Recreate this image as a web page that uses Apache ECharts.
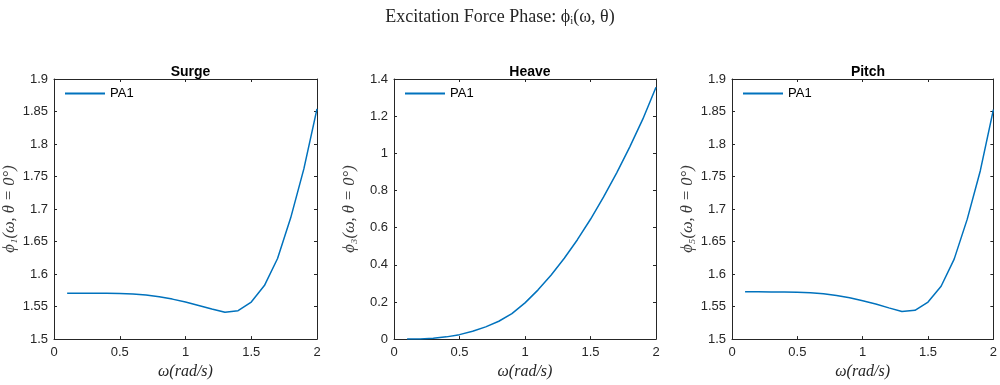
<!DOCTYPE html>
<html>
<head>
<meta charset="utf-8">
<script src="https://cdn.jsdelivr.net/npm/echarts@6/dist/echarts.min.js"></script>
<style>
  html, body { margin: 0; padding: 0; background: #fff; }
  #chart { width: 1000px; height: 385px; }
</style>
</head>
<body>
<div id="chart"></div>
<script>
// frequency samples (rad/s)
const omega = [0.1, 0.2, 0.3, 0.4, 0.5, 0.6, 0.7, 0.8, 0.9, 1.0,
               1.1, 1.2, 1.3, 1.4, 1.5, 1.6, 1.7, 1.8, 1.9, 2.0]

// phase values
const surgePhase = [1.5707, 1.5707, 1.5706, 1.5705, 1.5702, 1.5695, 1.5680, 1.5652, 1.5615, 1.5570,
                    1.5518, 1.5462, 1.5412, 1.5437, 1.5570, 1.5823, 1.6240, 1.6865, 1.7617, 1.8540]
const heavePhase = [0.000, 0.001, 0.005, 0.012, 0.024, 0.042, 0.066, 0.096, 0.137, 0.195,
                    0.265, 0.345, 0.435, 0.535, 0.645, 0.765, 0.895, 1.035, 1.185, 1.356]
const pitchPhase = [1.5727, 1.5727, 1.5726, 1.5725, 1.5722, 1.5714, 1.5699, 1.5670, 1.5635, 1.5590,
                    1.5540, 1.5480, 1.5425, 1.5442, 1.5570, 1.5813, 1.6230, 1.6845, 1.7590, 1.8530]

const panelTitles = ['Surge', 'Heave', 'Pitch']
const yNames = ['ϕ₁(ω, θ = 0°)', 'ϕ₃(ω, θ = 0°)', 'ϕ₅(ω, θ = 0°)']
const yRanges = [[1.5, 1.9, 0.05], [0, 1.4, 0.2], [1.5, 1.9, 0.05]]
const xTicks = [0, 0.5, 1, 1.5, 2]
const lineName = 'PA1'

const panels = [surgePhase, heavePhase, pitchPhase]
const gridLefts = [54, 394, 732]
const gridWidths = [263, 262, 262]
const axisColor = '#262626'
const labelFont = 'Liberation Sans, Arial, Helvetica, sans-serif'
const mathFont = 'Liberation Serif, DejaVu Serif, serif'

const chart = echarts.init(document.getElementById('chart'))

const grids = []
const xAxes = []
const yAxes = []
const series = []
const titles = [{
  text: 'Excitation Force Phase: ϕᵢ(ω, θ)',
  left: 'center',
  top: 3,
  textStyle: { fontFamily: mathFont, fontWeight: 'normal', fontSize: 18, color: axisColor }
}]
const legends = []

panels.forEach((vals, i) => {
  grids.push({ left: gridLefts[i], top: 79, width: gridWidths[i], height: 263 })

  const baseAxis = {
    gridIndex: i,
    type: 'value',
    splitLine: { show: false },
    axisLine: { show: true, onZero: false, lineStyle: { color: axisColor, width: 1 } },
    axisTick: { show: true, inside: true, length: 3, lineStyle: { color: axisColor } }
  }

  // bottom x axis with labels
  xAxes.push(Object.assign({}, baseAxis, {
    position: 'bottom',
    min: xTicks[0], max: xTicks[xTicks.length - 1], interval: 0.5,
    axisLabel: { color: axisColor, fontSize: 13, fontFamily: labelFont, margin: 7 },
    name: 'ω(rad/s)',
    nameLocation: 'middle',
    nameGap: 23,
    nameTextStyle: { fontFamily: mathFont, fontStyle: 'italic', fontSize: 16, color: axisColor }
  }))
  // top x axis (box)
  xAxes.push(Object.assign({}, baseAxis, {
    position: 'top',
    min: xTicks[0], max: xTicks[xTicks.length - 1], interval: 0.5,
    axisLabel: { show: false }
  }))

  const [ymin, ymax, yint] = yRanges[i]
  yAxes.push(Object.assign({}, baseAxis, {
    position: 'left',
    min: ymin, max: ymax, interval: yint,
    axisLabel: { color: axisColor, fontSize: 13, fontFamily: labelFont, margin: 6 },
    name: yNames[i],
    nameLocation: 'middle',
    nameGap: 36,
    nameTextStyle: { fontFamily: mathFont, fontStyle: 'italic', fontSize: 16.5, color: '#3a3a3a' }
  }))
  yAxes.push(Object.assign({}, baseAxis, {
    position: 'right',
    min: ymin, max: ymax, interval: yint,
    axisLabel: { show: false }
  }))

  series.push({
    name: lineName,
    type: 'line',
    xAxisIndex: i * 2,
    yAxisIndex: i * 2,
    data: omega.map((w, k) => [w, vals[k]]),
    showSymbol: false,
    symbol: 'none',
    lineStyle: { color: '#0072BD', width: 1.5 },
    itemStyle: { color: '#0072BD' },
    animation: false
  })

  titles.push({
    text: panelTitles[i],
    left: gridLefts[i] + gridWidths[i] / 2,
    textAlign: 'center',
    top: 60,
    textStyle: { fontFamily: labelFont, fontWeight: 'bold', fontSize: 14, color: '#000' }
  })

  legends.push({
    data: [{ name: lineName, icon: 'path://M0,0 L40,0 L40,2 L0,2 Z' }],
    seriesIndex: i,
    left: gridLefts[i] + 11,
    top: 87,
    padding: 0,
    itemWidth: 40,
    itemHeight: 2,
    itemGap: 5,
    textStyle: { fontFamily: labelFont, fontSize: 13, color: '#000' },
    selectedMode: false
  })
})

chart.setOption({
  animation: false,
  backgroundColor: '#fff',
  title: titles,
  grid: grids,
  xAxis: xAxes,
  yAxis: yAxes,
  legend: legends,
  series: series
})
</script>
</body>
</html>
